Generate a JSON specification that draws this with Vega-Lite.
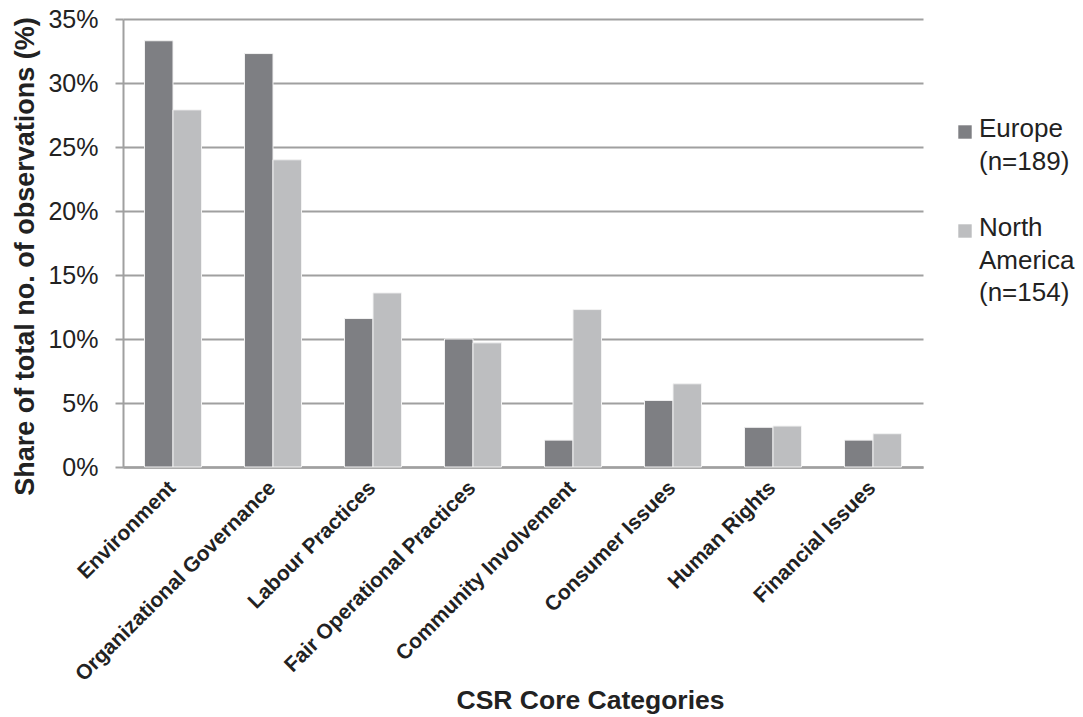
{
  "$schema": "https://vega.github.io/schema/vega-lite/v6.json",
  "autosize": "none",
  "width": 800,
  "height": 448,
  "padding": {"left": 123, "top": 19, "right": 160, "bottom": 250},
  "background": "#ffffff",
  "config": {
    "font": "Liberation Sans",
    "view": {"stroke": null},
    "style": {"guide-label": {"lineHeight": 32.5, "dy": 5}}
  },
  "data": {
    "values": [
      {"category": "Environment", "region": "Europe", "share": 33.3},
      {"category": "Environment", "region": "North America", "share": 27.9},
      {"category": "Organizational Governance", "region": "Europe", "share": 32.3},
      {"category": "Organizational Governance", "region": "North America", "share": 24.0},
      {"category": "Labour Practices", "region": "Europe", "share": 11.6},
      {"category": "Labour Practices", "region": "North America", "share": 13.6},
      {"category": "Fair Operational Practices", "region": "Europe", "share": 10.0},
      {"category": "Fair Operational Practices", "region": "North America", "share": 9.7},
      {"category": "Community Involvement", "region": "Europe", "share": 2.1},
      {"category": "Community Involvement", "region": "North America", "share": 12.3},
      {"category": "Consumer Issues", "region": "Europe", "share": 5.2},
      {"category": "Consumer Issues", "region": "North America", "share": 6.5},
      {"category": "Human Rights", "region": "Europe", "share": 3.1},
      {"category": "Human Rights", "region": "North America", "share": 3.2},
      {"category": "Financial Issues", "region": "Europe", "share": 2.1},
      {"category": "Financial Issues", "region": "North America", "share": 2.6}
    ]
  },
  "mark": {"type": "bar", "stroke": "#f2f2f2", "strokeWidth": 1},
  "encoding": {
    "x": {
      "field": "category",
      "type": "nominal",
      "sort": null,
      "scale": {"paddingInner": 0.43, "paddingOuter": 0.215},
      "axis": {
        "title": "CSR Core Categories",
        "titleFontSize": 26.5,
        "titleFontWeight": "bold",
        "titleColor": "#222222",
        "titleX": 467,
        "titleY": 241,
        "titleBaseline": "alphabetic",
        "labelAngle": -45,
        "labelAlign": "right",
        "labelBaseline": "middle",
        "labelFontSize": 21,
        "labelFontWeight": "bold",
        "labelColor": "#222222",
        "labelPadding": 14,
        "labelOffset": -4,
        "labelLimit": 400,
        "ticks": false,
        "domainColor": "#a0a0a0",
        "domainWidth": 2.5
      }
    },
    "xOffset": {"field": "region", "type": "nominal"},
    "y": {
      "field": "share",
      "type": "quantitative",
      "scale": {"domain": [0, 35]},
      "axis": {
        "title": "Share of total no. of observations (%)",
        "titleFontSize": 27,
        "titleFontWeight": "bold",
        "titleColor": "#222222",
        "titleBaseline": "alphabetic",
        "titleX": -90,
        "titleY": 237,
        "values": [0, 5, 10, 15, 20, 25, 30, 35],
        "labelExpr": "datum.value + '%'",
        "labelFontSize": 25,
        "labelColor": "#222222",
        "labelPadding": 17,
        "labelOffset": -5,
        "tickSize": 8,
        "tickColor": "#a0a0a0",
        "tickWidth": 2,
        "domainColor": "#a0a0a0",
        "domainWidth": 2,
        "gridColor": "#a0a0a0",
        "gridWidth": 2
      }
    },
    "color": {
      "field": "region",
      "type": "nominal",
      "scale": {"domain": ["Europe", "North America"], "range": ["#7e7f83", "#bdbec0"]},
      "legend": {
        "title": null,
        "orient": "none",
        "legendX": 829,
        "legendY": 100,
        "symbolType": "square",
        "symbolSize": 180,
        "symbolStrokeWidth": 0,
        "labelFontSize": 26,
        "labelColor": "#222222",
        "labelBaseline": "alphabetic",
        "labelOffset": 1,
        "labelLimit": 300,
        "rowPadding": 40,
        "padding": 0,
        "labelExpr": "datum.label == 'Europe' ? ['Europe', '(n=189)'] : ['North', 'America', '(n=154)']"
      }
    }
  }
}
